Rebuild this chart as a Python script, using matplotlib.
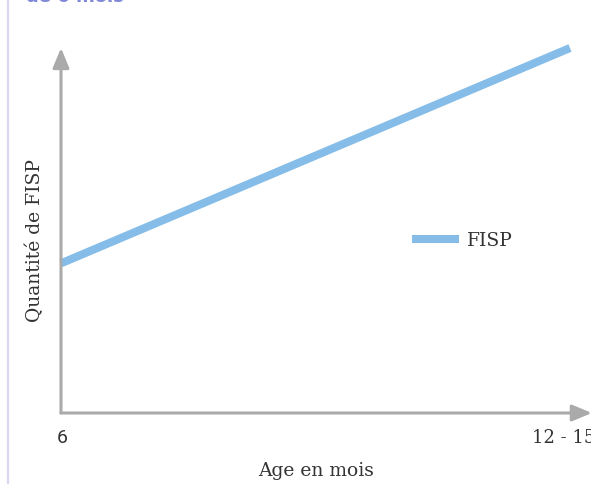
import matplotlib
matplotlib.use("Agg")
import matplotlib.pyplot as plt
from matplotlib.lines import Line2D

# data: relative amount of FISP from 6 months to 12-15 months
ages = [0, 1]
age_labels = ["6", "12 - 15"]
fisp = [0.41, 1.0]

W, H = 591, 484
fig = plt.figure(figsize=(W / 100, H / 100), dpi=100)

# axes box in pixel units -> figure fractions
x0, x1 = 61, 570
y0, y1 = 413, 48
ax = fig.add_axes([x0 / W, 1 - y0 / H, (x1 - x0) / W, (y0 - y1) / H])
ax.set_xlim(0, 1)
ax.set_ylim(0, 1)
for s in ax.spines.values():
    s.set_visible(False)
ax.set_xticks([])
ax.set_yticks([])
ax.patch.set_alpha(0)

axis_col = "#aaaaaa"
ax.plot(ages, fisp, color="#85bde8", lw=5.8, solid_capstyle="butt",
        clip_on=False, zorder=3, label="FISP")

# arrowed axes
ax.annotate("", xy=(1.043, 0), xytext=(0, 0), xycoords="axes fraction",
            arrowprops=dict(arrowstyle="-|>,head_length=1.2,head_width=0.5",
                            color=axis_col, lw=2.2, shrinkA=0, shrinkB=0),
            annotation_clip=False)
ax.annotate("", xy=(0, 1.0), xytext=(0, 0), xycoords="axes fraction",
            arrowprops=dict(arrowstyle="-|>,head_length=1.2,head_width=0.5",
                            color=axis_col, lw=2.2, shrinkA=0, shrinkB=0),
            annotation_clip=False)

txt = "#333333"
serif = ["DejaVu Serif"]
fig.text(62 / W, 1 - 438 / H, age_labels[0], ha="center", va="center",
         fontsize=14, color=txt, family="Roboto")
fig.text(532 / W, 1 - 438 / H, age_labels[1], ha="left", va="center",
         fontsize=13, color=txt, family=serif)
fig.text(316 / W, 1 - 471 / H, "Age en mois", ha="center", va="center",
         fontsize=13.5, color=txt, family=serif)
fig.text(35 / W, 1 - 241 / H, "Quantité de FISP", ha="center", va="center",
         rotation=90, fontsize=13.5, color=txt, family=serif)

# legend
handle = Line2D([0], [0], color="#85bde8", lw=5.8)
fig.legend([handle], ["FISP"], loc="center left",
           bbox_to_anchor=(399 / W, 1 - 241 / H), frameon=False,
           handlelength=2.1, handletextpad=0.65,
           prop={"family": serif, "size": 13.5}, labelcolor=txt)

# light purple border on the left and cut title at the top
fig.add_artist(Line2D([7.5 / W, 7.5 / W], [0, 1], color="#d8d8f0", lw=1.6))
fig.text(26 / W, 1 - 2.5 / H, "de 6 mois", ha="left", va="baseline",
         fontsize=13, color="#8088d8", fontweight="bold")

fig.savefig("out.png", dpi=100)
